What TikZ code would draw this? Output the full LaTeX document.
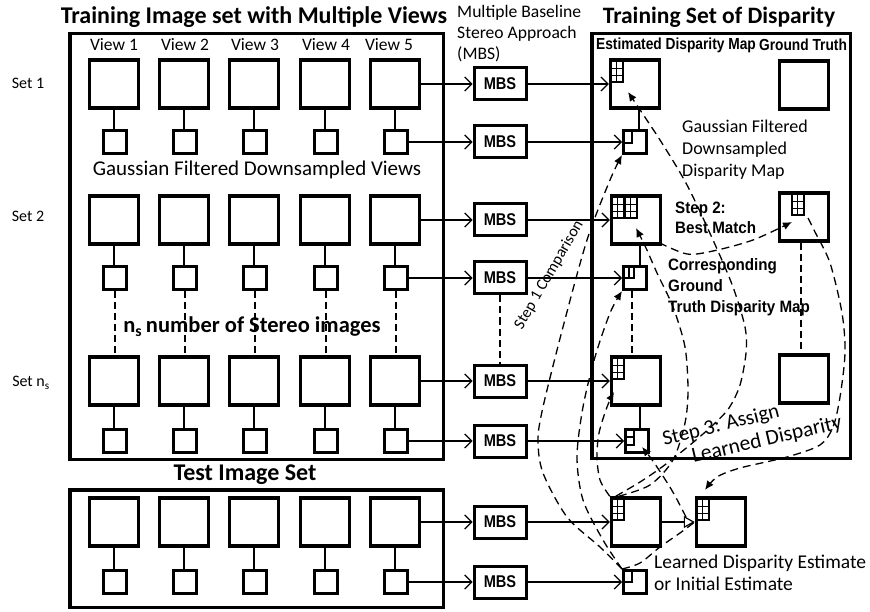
\documentclass[tikz,border=0pt]{standalone}
\usepackage{fontspec}
\setmainfont{Carlito}
\newfontfamily\nb[FakeStretch=0.86]{Liberation Sans}
\newfontfamily\nbw[FakeStretch=0.92]{Liberation Sans}
\usetikzlibrary{arrows.meta,calc}
\newcommand\fs[2][]{\fontsize{#2}{#2}\selectfont}
\newcommand\fsb[2]{\fontsize{#1}{#2}\selectfont}
\newcommand\dgrid[2]{%
  \draw[gl] ([shift={(#2+2,2)}]#1.north west) coordinate (g0) rectangle ++(12,22);
  \draw[gi] ([shift={(6,0)}]g0) -- ++(0,22);
  \draw[gi] ([shift={(0,8)}]g0) -- ++(12,0);
  \draw[gi] ([shift={(0,15)}]g0) -- ++(12,0);}
\begin{document}
\begin{tikzpicture}[x=1pt,y=-1pt,
  box/.style={draw,line width=3.5,inner sep=0},
  bigsq/.style={draw,line width=3.5,minimum width=49,minimum height=48,inner sep=0},
  smsq/.style={draw,line width=3,minimum size=23,inner sep=0},
  mbs/.style={draw,line width=3,minimum width=52,minimum height=32,inner sep=0,font=\nb\bfseries\fs{17}},
  thinl/.style={line width=1.2},
  sarr/.style={line width=1.2,-{Straight Barb[length=7pt,width=14pt]}},
  vdash/.style={line width=1.3,dash pattern=on 7pt off 4pt},
  dc/.style={line width=1.3,dash pattern=on 8pt off 5pt},
  dca/.style={dc,-{Latex[length=9pt,width=8pt]}},
  gl/.style={line width=2.2},
  gi/.style={line width=1.4},
  ttl/.style={font=\bfseries\fs{24}},
  lab/.style={font=\fs{16}},
  nlab/.style={font=\nbw\bfseries\fsb{16.5}{20.5},align=left,anchor=west,inner sep=0}]
\useasboundingbox (0,0) rectangle (870,612);
\fill[white] (0,0) rectangle (870,612);

% outer boxes
\node[box,minimum width=373.5,minimum height=425.5] (trainbox) at (256.5,246.5) {};
\node[box,minimum width=373.5,minimum height=117.5] (testbox) at (256.5,548.5) {};
\node[box,minimum width=258.5,minimum height=424.5] (disbox) at (721,246) {};

% titles
\node[ttl] (t1) at (254,17) {Training Image set with Multiple Views};
\node[ttl] (t2) at (245,475) {Test Image Set};
\node[ttl,font=\bfseries\fs{23.5}] (t3) at (719,17) {Training Set of Disparity};
\node[align=left,anchor=north west,inner sep=0,font=\fsb{17.6}{21}] (mbst) at (457,5) {Multiple Baseline\\Stereo Approach\\(MBS)};

% set labels
\node[lab] (s1) at (28,83) {Set 1};
\node[lab] (s2) at (28,216) {Set 2};
\node[lab] (s3) at (31,383) {Set n\textsubscript{s}};

% view labels
\foreach \c/\x in {1/114,2/185,3/255,4/326,5/389}
  \node[font=\fs{17.5}] (v\c) at (\x,45) {View \c};

% image squares
\foreach \r/\yl/\ys in {a/84/142,b/220/278,c/381/441,t/522/582}{
  \foreach \c/\x in {1/114,2/184,3/254,4/325,5/395}{
    \node[bigsq] (\r\c) at (\x,\yl) {};
    \node[smsq] (\r s\c) at (\x+1,\ys) {};
    \draw[thinl] (\r\c.south) -- (\r\c.south |- \r s\c.north);
  }
}
\foreach \c in {1,...,5}
  \draw[vdash] (bs\c.south) -- (bs\c.south |- c\c.north);

\node[font=\fs{21}] (gfdv) at (257,170) {Gaussian Filtered Downsampled Views};
\node[font=\bfseries\fs{22.5}] (nsn) at (252,327) {n\textsubscript{s}\,number of Stereo images};

% MBS boxes
\foreach \i/\y in {1/84,2/142,3/220,4/278,5/381,6/441,7/522,8/582}
  \node[mbs] (m\i) at (500,\y) {MBS};
\draw[vdash] (m4.south) -- (m5.north);

\draw[sarr] (a5.east) -- (m1.west);
\draw[sarr] (as5.east) -- (m2.west);
\draw[sarr] (b5.east) -- (m3.west);
\draw[sarr] (bs5.east) -- (m4.west);
\draw[sarr] (c5.east) -- (m5.west);
\draw[sarr] (cs5.east) -- (m6.west);
\draw[sarr] (t5.east) -- (m7.west);
\draw[sarr] (ts5.east) -- (m8.west);

% disparity maps
\node[font=\nb\bfseries\fs{16}] (edm) at (676,45) {Estimated Disparity Map};
\node[font=\nb\bfseries\fs{16}] (gtl) at (803,45) {Ground Truth};

\node[bigsq] (e1L) at (635,84) {};
\node[smsq] (e1S) at (635,142) {};
\node[bigsq] (e2L) at (636,220) {};
\node[smsq] (e2S) at (635,278) {};
\node[bigsq] (e3L) at (636,381) {};
\node[smsq] (e3S) at (637,441) {};
\node[bigsq] (tL) at (636,522) {};
\node[smsq] (tS) at (635,582) {};
\node[bigsq] (lL) at (721,522) {};
\node[bigsq] (g1) at (804,85) {};
\node[bigsq] (g2) at (804,217) {};
\node[bigsq] (g3) at (804,379) {};

\dgrid{e1L}{0}
\dgrid{e2L}{0}
\dgrid{e2L}{13}
\dgrid{e3L}{0}
\dgrid{tL}{0}
\dgrid{lL}{0}
\dgrid{g2}{12}

% small inner marks
\draw[gl] ([shift={(2,2)}]e1S.north west) rectangle ++(8,12);
\draw[gl] ([shift={(2,2)}]e2S.north west) rectangle ++(10,11);
\draw[gi] ([shift={(7,2)}]e2S.north west) -- ++(0,11);
\draw[gl] ([shift={(2,2)}]e3S.north west) rectangle ++(8,15);
\draw[gi] ([shift={(2,9)}]e3S.north west) -- ++(8,0);
\draw[gl] ([shift={(2,2)}]tS.north west) rectangle ++(8,11);

% straight connectors
\draw[sarr] (m1.east) -- (e1L.west);
\draw[sarr] (m2.east) -- (e1S.west);
\draw[sarr] (m3.east) -- (e2L.west);
\draw[sarr] (m4.east) -- (e2S.west);
\draw[sarr] (m5.east) -- (e3L.west);
\draw[sarr] (m6.east) -- (e3S.west);
\draw[sarr] (m7.east) -- (tL.west);
\draw[sarr] (m8.east) -- (tS.west);
\draw[line width=1.2,-{Triangle[open,length=11pt,width=12pt]}] (tL.east) -- (lL.west);

\draw[thinl] ([xshift=4]e1L.south) -- ([xshift=4]e1L.south |- e1S.north);
\draw[thinl] ([xshift=4]e3L.south) -- ([xshift=4]e3L.south |- e3S.north);
\draw[thinl] ([xshift=4]e2L.south) -- ([xshift=4]e2L.south |- e2S.north);
\draw[vdash] ([xshift=-3]e2S.south) -- ([xshift=-3]e2S.south |- e3L.north);
\draw[vdash] ([xshift=-3]g2.south) -- ([xshift=-3]g2.south |- g3.north);

% texts right
\node[font=\fsb{18}{22},align=left,anchor=west,inner sep=0] (gfd) at (682,150) {Gaussian Filtered\\Downsampled\\Disparity Map};
\node[nlab,font=\nbw\bfseries\fsb{16.5}{20}] (s2t) at (675,218) {Step 2:\\Best Match};
\node[nlab,font=\nbw\bfseries\fsb{16.5}{21}] (cgt) at (668,287) {Corresponding\\Ground\\Truth Disparity Map};
\node[font=\fs{16},rotate=60] (s1c) at (549,275) {Step 1 Comparison};
\node[font=\fs{21},rotate=14] (s3a) at (721,426) {Step 3: Assign};
\node[font=\fs{21.5},rotate=13] (s3b) at (767,440) {Learned Disparity};
\node[font=\fsb{19.5}{22},align=left,anchor=west,inner sep=0] (lde) at (654,573) {Learned Disparity Estimate\\or Initial Estimate};

% dashed curves
\coordinate (dj) at (686,517);
\draw[dca] plot[smooth] coordinates {(tS.north west) (600,547) (567,517) (543,473) (538,440) (543,407) (563,327) (587,240) (610,180) (e1S.south west)};
\draw[dca] plot[smooth] coordinates {(tS.north west) (603,540) (583,500) (577,457) (583,407) (595,357) (610,313) (e2S.south west)};
\draw[dca] plot[smooth] coordinates {(tL.north west) (600,480) (597,457) (599,433) (607,407) (614,392)};
\draw[dca] plot[smooth] coordinates {([xshift=6]tL.north west) (640,482) (662,467) (690,445) (713,425) (729,408) (740,385) (746,353) (745,327) (733,287) (713,240) (687,185) (660,140) (628,92)};
\draw[dca] plot[smooth] coordinates {([xshift=9]tL.north west) (650,485) (673,460) (685,423) (688,390) (685,347) (673,307) (657,273) (646,248) (636,228)};
\draw[dca] plot[smooth] coordinates {([shift={(-3,-3)}]e2L.south east) (687,254) (713,251) (753,240) (792,222)};
\draw[dca] plot[smooth] coordinates {(808,218) (815,232) (830,263) (842,313) (845,353) (840,397) (833,427) (820,445) (787,457) (740,468) (717,477) (705,490)};
\draw[dc] plot[smooth] coordinates {(tS.north west) (640,563) (660,547) (680,533) (lL.west)};
\draw[dca] plot[smooth] coordinates {(dj) (674,494) (661,473) (650,457) (642,447)};
\end{tikzpicture}
\end{document}
